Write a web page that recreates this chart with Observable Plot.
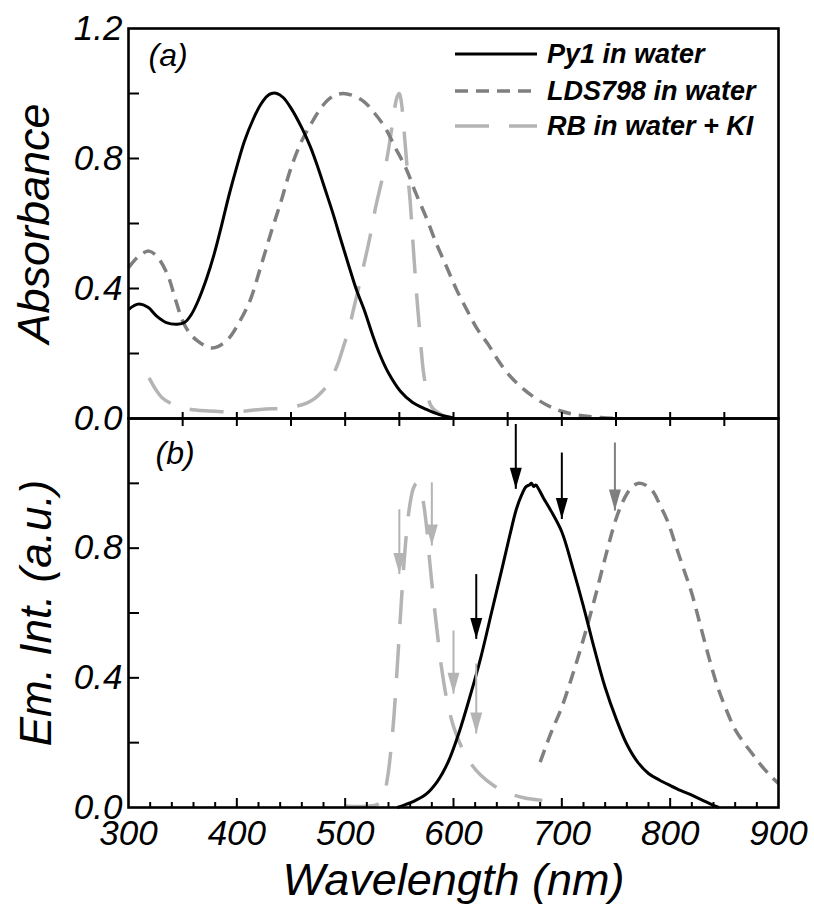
<!DOCTYPE html>
<html>
<head>
<meta charset="utf-8">
<script src="https://cdn.jsdelivr.net/npm/d3@7"></script>
<script src="https://cdn.jsdelivr.net/npm/@observablehq/plot@0.6"></script>
<style>
  html, body { margin: 0; padding: 0; background: #fff; }
  #wrap { position: relative; width: 814px; height: 906px; font-family: "Liberation Sans", Arial, sans-serif; }
  #wrap > svg { display: block; }
  #legend { position: absolute; left: 0; top: 0; pointer-events: none; }
</style>
</head>
<body>
<div id="wrap"></div>
<script>
// ---------- Data ----------
// (a) Absorbance
const py1AbsWl = [300,305,310,318,326,335,345,352,358,364,372,379,386,393,400,407,415,422,428,432,437,443,450,460,468,475,482,489,496,503,510,518,525,532,540,551,562,575,587,600];
const py1Abs   = [0.335,0.347,0.352,0.342,0.315,0.295,0.29,0.296,0.32,0.36,0.43,0.505,0.595,0.69,0.775,0.853,0.92,0.966,0.992,1.0,1.0,0.987,0.955,0.894,0.835,0.771,0.70,0.628,0.55,0.474,0.40,0.33,0.26,0.197,0.14,0.084,0.05,0.028,0.012,0.002];

const ldsAbsWl = [300,308,314,319,326,336,343,350,357,364,370,376,383,393,402,412,421,431,441,450,460,470,477,484,491,498,506,517,527,537,546,556,565,575,584,594,603,613,622,632,641,651,663,675,687,699,711,723,736,749];
const ldsAbs   = [0.464,0.495,0.51,0.515,0.50,0.443,0.37,0.30,0.26,0.238,0.225,0.217,0.222,0.248,0.295,0.361,0.455,0.566,0.67,0.771,0.855,0.915,0.952,0.98,0.995,1.0,0.995,0.976,0.94,0.894,0.835,0.771,0.695,0.617,0.54,0.464,0.395,0.33,0.275,0.228,0.18,0.135,0.095,0.064,0.04,0.023,0.013,0.007,0.003,0.0];

const rbAbsWl = [319,325,331,340,350,362,374,386,398,410,422,433,443,454,465,472,479,485,489,494,498,503,508,513,518,523,528,533,538,542,545,548,550,552,554,556,558,560,563,566,568,570,572,575,580,590,600];
const rbAbs   = [0.125,0.09,0.064,0.045,0.033,0.026,0.023,0.021,0.02,0.024,0.028,0.03,0.031,0.037,0.048,0.062,0.084,0.108,0.135,0.175,0.217,0.27,0.34,0.41,0.484,0.56,0.648,0.72,0.79,0.87,0.94,0.99,1.0,0.97,0.9,0.82,0.74,0.669,0.52,0.38,0.3,0.22,0.15,0.09,0.035,0.01,0.0];

// (b) Emission
const py1EmWl = [548,555,565,575,585,595,605,615,625,635,645,652,658,663,667,670,672,674,676,679,683,690,700,710,720,730,740,750,760,770,780,790,800,810,820,830,838,845];
const py1Em   = [0.0,0.008,0.022,0.042,0.08,0.14,0.23,0.34,0.46,0.6,0.74,0.84,0.92,0.965,0.99,0.995,1.0,0.99,0.995,0.98,0.955,0.915,0.85,0.74,0.62,0.49,0.37,0.275,0.195,0.14,0.105,0.085,0.068,0.052,0.038,0.022,0.01,0.0];

const ldsEmWl = [680,690,700,710,720,730,740,750,758,765,771,777,784,791,798,805,812,820,828,836,844,852,860,868,876,884,892,900];
const ldsEm   = [0.14,0.23,0.31,0.41,0.52,0.64,0.77,0.89,0.955,0.99,1.0,0.995,0.975,0.93,0.88,0.81,0.74,0.66,0.56,0.46,0.37,0.3,0.24,0.2,0.165,0.13,0.1,0.074];

const rbEmWl = [500,510,520,530,535,539,542,545,548,551,554,557,560,563,566,569,572,575,578,581,585,589,594,600,607,615,625,637,650,665,682];
const rbEm   = [0.005,0.003,0.004,0.01,0.03,0.09,0.17,0.28,0.43,0.59,0.74,0.86,0.94,0.985,1.0,0.985,0.945,0.87,0.76,0.66,0.54,0.43,0.33,0.25,0.19,0.14,0.1,0.068,0.045,0.03,0.022];

// Arrows in panel (b): wavelength, top of shaft, tip, series
const arrowWl   = [657.5, 700, 621, 749, 550, 580, 600, 621];
const arrowTop  = [1.183, 1.095, 0.72, 1.126, 0.92, 1.003, 0.546, 0.444];
const arrowTip  = [0.983, 0.89, 0.52, 0.916, 0.72, 0.808, 0.351, 0.228];
const arrowSeries = ["Py1","Py1","Py1","LDS","RB","RB","RB","RB"];

// Legend / labels
const seriesNames = ["Py1 in water", "LDS798 in water", "RB in water + KI"];
const xTickLabels = [300, 400, 500, 600, 700, 800, 900];
const yTickLabelsA = [0, 0.4, 0.8, 1.2];
const yTickLabelsB = [0, 0.4, 0.8];
const yMinorTicks = [0.2, 0.4, 0.6, 0.8, 1.0];

// ---------- Styles ----------
const COL = {Py1: "#000000", LDS: "#7f7f7f", RB: "#b4b4b4"};
const DASH = {Py1: null, LDS: "13,8", RB: "34,20"};
const SW = {Py1: 3, LDS: 3.5, RB: 3.5};
const FONT = '"Liberation Sans", Arial, Helvetica, sans-serif';

const zip = (xs, ys) => xs.map((x, i) => ({x, y: ys[i]}));
const svgStyle = {fontFamily: FONT, fontStyle: "italic", overflow: "visible", background: "transparent", color: "#000"};

const W = 814, L = 128, R = 36;
const plotW = W - L - R; // 650
const hA = 418, topA = 28; const innerA = hA - topA; // 390
const hB = 488, botB = 99; const innerB = hB - botB; // 389

const ticks50 = d3.range(350, 900, 50);
const ticks100 = d3.range(400, 900, 100);
const ticks20 = d3.range(320, 900, 20).filter(d => d % 100 !== 0);

function seriesLine(data, key) {
  return Plot.line(data, {x: "x", y: "y", stroke: COL[key], strokeWidth: SW[key],
    strokeDasharray: DASH[key], curve: "catmull-rom", strokeLinecap: "butt"});
}

// ---------- Panel (a) ----------
const plotA = Plot.plot({
  width: W, height: hA,
  marginTop: topA, marginBottom: 0, marginLeft: L, marginRight: R,
  style: svgStyle,
  x: {domain: [300, 900], axis: null},
  y: {domain: [0, 1.2], axis: null},
  marks: [
    seriesLine(zip(rbAbsWl, rbAbs), "RB"),
    seriesLine(zip(ldsAbsWl, ldsAbs), "LDS"),
    seriesLine(zip(py1AbsWl, py1Abs), "Py1"),
    Plot.frame({stroke: "#000", strokeWidth: 2.6}),
    Plot.tickY(yMinorTicks, {y: d => d, insetRight: plotW - 11, stroke: "#000", strokeWidth: 2}),
    Plot.tickX(ticks50, {x: d => d, insetTop: innerA - 6, stroke: "#000", strokeWidth: 2}),
    Plot.axisY({ticks: yTickLabelsA, tickSize: 0, tickPadding: 6, tickFormat: d3.format(".1f"),
      fontSize: 35, fontStyle: "italic", label: null}),
    Plot.text(["Absorbance"], {frameAnchor: "left", textAnchor: "middle", dx: -94, rotate: -90, fontSize: 45, fontStyle: "italic"}),
    Plot.text(["(a)"], {frameAnchor: "top-left", dx: 20, dy: 37, lineAnchor: "bottom", textAnchor: "start",
      fontSize: 32, fontStyle: "italic"})
  ]
});

// ---------- Panel (b) ----------
const arrows = arrowWl.map((x, i) => ({x, y1: arrowTop[i], y2: arrowTip[i], s: arrowSeries[i]}));
const headSymbol = {
  draw(context) {
    context.moveTo(0, 0);
    context.lineTo(-6, -21);
    context.lineTo(6, -21);
    context.closePath();
  }
};

const plotB = Plot.plot({
  width: W, height: hB,
  marginTop: 0, marginBottom: botB, marginLeft: L, marginRight: R,
  style: svgStyle,
  x: {domain: [300, 900], axis: null},
  y: {domain: [0, 1.2], axis: null},
  marks: [
    seriesLine(zip(rbEmWl, rbEm), "RB"),
    seriesLine(zip(ldsEmWl, ldsEm), "LDS"),
    seriesLine(zip(py1EmWl, py1Em), "Py1"),
    Plot.link(arrows, {x1: "x", x2: "x", y1: "y1", y2: "y2", stroke: d => COL[d.s], strokeWidth: 2}),
    Plot.dot(arrows, {x: "x", y: "y2", symbol: headSymbol, fill: d => COL[d.s], stroke: "none"}),
    Plot.frame({stroke: "#000", strokeWidth: 2.6}),
    Plot.tickY(yMinorTicks, {y: d => d, insetRight: plotW - 11, stroke: "#000", strokeWidth: 2}),
    Plot.tickX(ticks50, {x: d => d, insetBottom: innerB - 8, stroke: "#000", strokeWidth: 2}),
    Plot.tickX(ticks100, {x: d => d, insetTop: innerB - 9, stroke: "#000", strokeWidth: 2}),
    Plot.tickX(ticks20, {x: d => d, insetTop: innerB - 5, stroke: "#000", strokeWidth: 2}),
    Plot.axisY({ticks: yTickLabelsB, tickSize: 0, tickPadding: 6, tickFormat: d3.format(".1f"),
      fontSize: 35, fontStyle: "italic", label: null}),
    Plot.axisX({ticks: xTickLabels, tickSize: 0, tickPadding: 13, tickFormat: d3.format("d"),
      fontSize: 35, fontStyle: "italic", label: null}),
    Plot.text(["Em. Int. (a.u.)"], {frameAnchor: "left", textAnchor: "middle", dx: -92, rotate: -90, fontSize: 44, fontStyle: "italic"}),
    Plot.text(["Wavelength (nm)"], {frameAnchor: "bottom", dy: 87, lineAnchor: "bottom", fontSize: 45, fontStyle: "italic"}),
    Plot.text(["(b)"], {frameAnchor: "top-left", dx: 27, dy: 45, lineAnchor: "bottom", textAnchor: "start",
      fontSize: 32, fontStyle: "italic"})
  ]
});

const wrap = document.getElementById("wrap");
wrap.appendChild(plotA);
wrap.appendChild(plotB);

// ---------- Legend (inside panel a) ----------
const keys = ["Py1", "LDS", "RB"];
const rowY = [54, 91, 126];
const leg = d3.select(wrap).append("svg").attr("id", "legend").attr("width", W).attr("height", 906);
keys.forEach((k, i) => {
  leg.append("line").attr("x1", 455).attr("x2", 537).attr("y1", rowY[i]).attr("y2", rowY[i])
    .attr("stroke", COL[k]).attr("stroke-width", SW[k]).attr("stroke-dasharray", DASH[k]);
  leg.append("text").attr("x", 547).attr("y", rowY[i]).attr("dy", "0.35em")
    .attr("font-family", FONT).attr("font-size", 27).attr("font-weight", "bold").attr("font-style", "italic")
    .text(seriesNames[i]);
});
</script>
</body>
</html>
